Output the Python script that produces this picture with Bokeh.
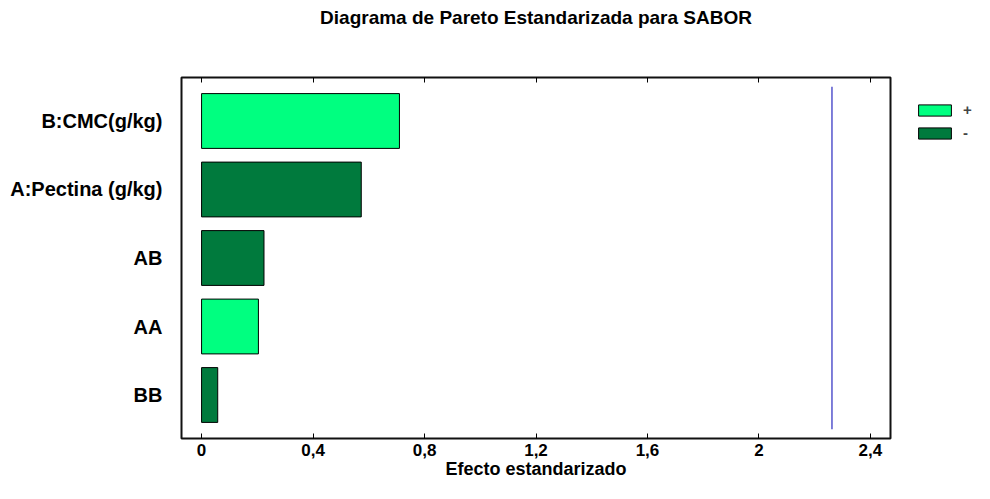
from bokeh.plotting import figure
from bokeh.models import (FactorRange, Range1d, LinearAxis, Legend, LegendItem,
                          FixedTicker, ColumnDataSource)
from bokeh.embed import file_html
from bokeh.resources import INLINE

# ---- data ----
factors = ["BB", "AA", "AB", "A:Pectina (g/kg)", "B:CMC(g/kg)"]
effects = [0.058, 0.204, 0.224, 0.573, 0.710]
signs = ["-", "+", "-", "-", "+"]
critical_value = 2.262
x_ticks = [0, 0.4, 0.8, 1.2, 1.6, 2.0, 2.4]
x_tick_labels = ["0", "0,4", "0,8", "1,2", "1,6", "2", "2,4"]
title_text = "Diagrama de Pareto Estandarizada para SABOR"
x_label_text = "Efecto estandarizado"

FONT = "Liberation Sans"
colors = {"+": "#00FF80", "-": "#007A3D"}

x_start, x_end = -0.072, 2.472
BL, BR, BT, BB = 181, 84, 77, 45
FW, FH = 709, 361

p = figure(frame_width=FW, frame_height=FH, output_backend="svg", toolbar_location=None,
           y_range=FactorRange(factors=factors, range_padding=0.135,
                               range_padding_units="absolute"),
           x_range=Range1d(x_start, x_end),
           min_border_left=BL, min_border_right=BR,
           min_border_top=BT, min_border_bottom=BB)

p.background_fill_color = "white"
p.border_fill_color = "white"
p.outline_line_color = "#111111"
p.outline_line_width = 2
p.xgrid.grid_line_color = None
p.ygrid.grid_line_color = None

renderers = {}
for s in ["+", "-"]:
    idx = [i for i, sg in enumerate(signs) if sg == s]
    src = ColumnDataSource(dict(y=[factors[i] for i in idx],
                                right=[effects[i] for i in idx]))
    renderers[s] = p.hbar(y="y", left=0, right="right", height=0.8, source=src,
                          fill_color=colors[s], line_color="black", line_width=1)

p.segment(x0=[critical_value], x1=[critical_value], y0=[0], y1=[len(factors)],
          line_color="#2A2AC0", line_width=1.2)

# bottom axis
xa = p.xaxis[0]
xa.ticker = FixedTicker(ticks=x_ticks)
xa.major_label_overrides = {t: l for t, l in zip(x_ticks, x_tick_labels)}
xa.major_label_text_font = FONT
xa.major_label_text_font_size = "17px"
xa.major_label_text_font_style = "bold"
xa.major_label_text_color = "black"
xa.major_label_standoff = 5
xa.major_tick_in = 5
xa.major_tick_out = 0
xa.major_tick_line_color = "black"
xa.minor_tick_line_color = None
xa.axis_line_color = None
xa.axis_label = x_label_text
xa.axis_label_text_font = FONT
xa.axis_label_text_font_size = "18px"
xa.axis_label_text_font_style = "bold"
xa.axis_label_text_color = "black"
xa.axis_label_standoff = 0

# top axis (ticks only) carrying the chart title
ta = LinearAxis(ticker=FixedTicker(ticks=x_ticks),
                major_label_overrides={t: "" for t in x_ticks},
                major_label_text_font_size="1px", major_label_standoff=0,
                major_tick_in=5, major_tick_out=0, minor_tick_line_color=None,
                axis_line_color=None, major_tick_line_color="black",
                axis_label=title_text, axis_label_standoff=50,
                axis_label_text_font=FONT, axis_label_text_font_size="19px",
                axis_label_text_font_style="bold", axis_label_text_color="black")
p.add_layout(ta, "above")

# left axis
ya = p.yaxis[0]
ya.major_label_text_font = FONT
ya.major_label_text_font_size = "20px"
ya.major_label_text_font_style = "bold"
ya.major_label_text_color = "black"
ya.major_label_standoff = 13
ya.major_tick_line_color = None
ya.minor_tick_line_color = None
ya.axis_line_color = None

legend = Legend(items=[LegendItem(label="+", renderers=[renderers["+"]]),
                       LegendItem(label="-", renderers=[renderers["-"]])],
                location=(24, FH - 24 - 40), glyph_width=41, glyph_height=14,
                label_text_font=FONT, label_text_font_size="15px",
                label_text_font_style="bold", label_standoff=8, spacing=6,
                padding=0, margin=0, border_line_color=None,
                background_fill_alpha=0)
p.add_layout(legend, "right")

open("out.html", "w").write(file_html(p, INLINE))
